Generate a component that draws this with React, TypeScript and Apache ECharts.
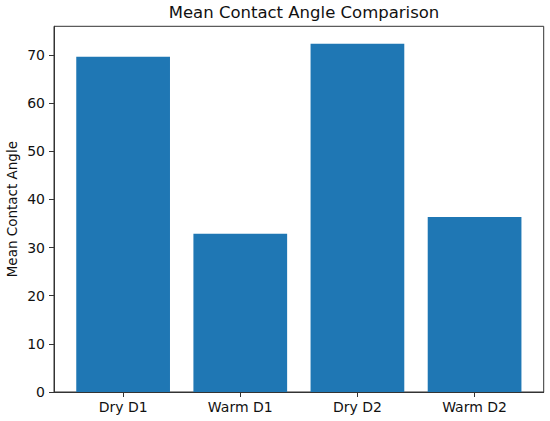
import React, { useEffect, useRef } from "react";
import * as echarts from "echarts";

const categories = ["Dry D1", "Warm D1", "Dry D2", "Warm D2"];
const meanAngles = [69.65, 32.88, 72.34, 36.35];
const yTicks = [0, 10, 20, 30, 40, 50, 60, 70];
const titleText = "Mean Contact Angle Comparison";
const yName = "Mean Contact Angle";

export default function App() {
  const ref = useRef<HTMLDivElement>(null);
  useEffect(() => {
    document.body.style.margin = "0";
    const chart = echarts.init(ref.current!, null, { renderer: "svg" });
    const font = "DejaVu Sans";
    const idx = categories.map((_, i) => i);
    const yMax = Math.max(...meanAngles) * 1.05;
    const span = categories.length - 1 + 0.8;
    const xMin = -0.4 - span * 0.05;
    const xMax = categories.length - 1 + 0.4 + span * 0.05;
    const plotW = 550 - 54 - 6.3;
    const barW = (0.8 / (xMax - xMin)) * plotW;
    chart.setOption({
      animation: false,
      backgroundColor: "#ffffff",
      textStyle: { fontFamily: font },
      title: {
        text: titleText,
        left: 299,
        textAlign: "center",
        top: -1,
        textStyle: { fontFamily: font, fontSize: 16.5, fontWeight: "normal", color: "#111" },
      },
      grid: {
        left: 54,
        right: 6.3,
        top: 26.3,
        bottom: 29,
        outerBoundsMode: "none",
        containLabel: false,
        show: true,
        borderColor: "#333",
        borderWidth: 1,
        backgroundColor: "transparent",
      },
      xAxis: {
        type: "value",
        min: xMin,
        max: xMax,
        splitLine: { show: false },
        axisLine: { show: true, onZero: false, lineStyle: { color: "#333", width: 1 } },
        axisTick: { show: true, length: 5, customValues: idx, lineStyle: { color: "#333" } },
        axisLabel: {
          customValues: idx,
          formatter: (v: number) => categories[Math.round(v)] ?? "",
          fontSize: 14,
          color: "#111",
          margin: 8,
          fontFamily: font,
        },
      },
      yAxis: {
        type: "value",
        min: 0,
        max: yMax,
        name: yName,
        nameLocation: "middle",
        nameRotate: 90,
        nameGap: 35,
        nameMoveOverlap: false,
        nameTextStyle: { fontSize: 13.5, color: "#111", fontFamily: font },
        splitLine: { show: false },
        axisLine: { show: true, onZero: false, lineStyle: { color: "#333", width: 1 } },
        axisTick: { show: true, length: 5, customValues: yTicks, lineStyle: { color: "#333" } },
        axisLabel: {
          customValues: yTicks,
          fontSize: 14,
          color: "#111",
          margin: 9,
          fontFamily: font,
        },
      },
      series: [
        {
          type: "bar",
          data: meanAngles.map((v, i) => [idx[i], v]),
          barWidth: barW,
          itemStyle: { color: "#1f77b4" },
        },
      ],
    });
    return () => chart.dispose();
  }, []);
  return <div ref={ref} style={{ width: 550, height: 421 }} />;
}
